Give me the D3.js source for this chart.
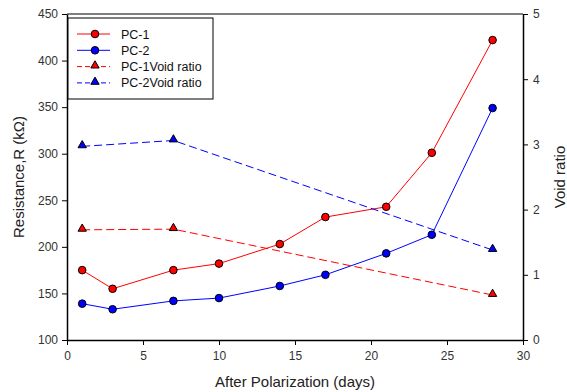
<!DOCTYPE html>
<html>
<head>
<meta charset="utf-8">
<script src="https://cdn.jsdelivr.net/npm/d3@7"></script>
<style>
  body { margin: 0; background: #fff; }
  text { font-family: "Liberation Sans", Arial, sans-serif; }
</style>
</head>
<body>
<svg id="chart" width="567" height="392"></svg>
<script>
// data
const days = [1, 3, 7, 10, 14, 17, 21, 24, 28];
const pc1 = [175, 155, 175, 182, 203, 232, 243, 301, 422];
const pc2 = [139, 133, 142, 145, 158, 170, 193, 213, 349];
const voidDays = [1, 7, 28];
const pc1Void = [1.69, 1.70, 0.69];
const pc2Void = [2.97, 3.06, 1.38];

const xTicks = [0, 5, 10, 15, 20, 25, 30];
const yTicks = [100, 150, 200, 250, 300, 350, 400, 450];
const y2Ticks = [0, 1, 2, 3, 4, 5];

const margin = { top: 14, right: 44, bottom: 52, left: 67 };
const width = 567 - margin.left - margin.right;
const height = 392 - margin.top - margin.bottom;

const svg = d3.select('#chart');
const g = svg.append('g')
  .attr('transform', `translate(${margin.left},${margin.top})`);

const x = d3.scaleLinear().domain([0, 30]).range([0, width]);
const y = d3.scaleLinear().domain([100, 450]).range([height, 0]);
const y2 = d3.scaleLinear().domain([0, 5]).range([height, 0]);

// frame top line
g.append('line')
  .attr('x1', 0).attr('x2', width)
  .attr('y1', 0).attr('y2', 0)
  .attr('stroke', '#000').attr('stroke-width', 1.2);

const styleAxis = sel => {
  sel.select('.domain').attr('stroke', '#000').attr('stroke-width', 1.5);
  sel.selectAll('.tick line').attr('stroke', '#000');
  sel.selectAll('.tick text')
    .attr('fill', '#333')
    .style('font-size', '12px');
};

g.append('g')
  .attr('transform', `translate(0,${height})`)
  .call(d3.axisBottom(x).tickValues(xTicks).tickSize(5).tickSizeOuter(0).tickPadding(6))
  .call(styleAxis);

g.append('g')
  .call(d3.axisLeft(y).tickValues(yTicks).tickSize(5).tickSizeOuter(0).tickPadding(4))
  .call(styleAxis);

g.append('g')
  .attr('transform', `translate(${width},0)`)
  .call(d3.axisRight(y2).tickValues(y2Ticks).tickFormat(d3.format('d'))
    .tickSize(5).tickSizeOuter(0).tickPadding(5))
  .call(styleAxis);

// axis titles
svg.append('text')
  .attr('x', margin.left + width / 2)
  .attr('y', 387)
  .attr('text-anchor', 'middle')
  .style('font-size', '15px')
  .attr('fill', '#222')
  .text('After Polarization (days)');

svg.append('text')
  .attr('transform', `translate(24,${margin.top + height / 2}) rotate(-90)`)
  .attr('text-anchor', 'middle')
  .style('font-size', '15px')
  .attr('fill', '#222')
  .text('Resistance,R (kΩ)');

svg.append('text')
  .attr('transform', `translate(565,${margin.top + height / 2}) rotate(-90)`)
  .attr('text-anchor', 'middle')
  .style('font-size', '15px')
  .attr('fill', '#222')
  .text('Void ratio');

const series = [
  { name: 'PC-1', xs: days, ys: pc1, scale: y, color: '#ff0000', dash: null, marker: 'circle' },
  { name: 'PC-2', xs: days, ys: pc2, scale: y, color: '#0000ff', dash: null, marker: 'circle' },
  { name: 'PC-1Void ratio', xs: voidDays, ys: pc1Void, scale: y2, color: '#ff0000', dash: '8,4', marker: 'triangle' },
  { name: 'PC-2Void ratio', xs: voidDays, ys: pc2Void, scale: y2, color: '#0000ff', dash: '8,4', marker: 'triangle' }
];

const tri = d3.symbol().type(d3.symbolTriangle).size(30);

function drawMarker(sel, s, cx, cy) {
  if (s.marker === 'circle') {
    sel.append('circle')
      .attr('cx', cx).attr('cy', cy).attr('r', 3.8)
      .attr('fill', s.color).attr('stroke', '#000').attr('stroke-width', 1);
  } else {
    sel.append('path')
      .attr('d', tri)
      .attr('transform', `translate(${cx},${cy - 1})`)
      .attr('fill', s.color).attr('stroke', '#000').attr('stroke-width', 1);
  }
}

series.forEach(s => {
  const pts = s.xs.map((d, i) => [d, s.ys[i]]);
  const line = d3.line().x(d => x(d[0])).y(d => s.scale(d[1]));
  g.append('path')
    .datum(pts)
    .attr('fill', 'none')
    .attr('stroke', s.color)
    .attr('stroke-width', 1)
    .attr('stroke-dasharray', s.dash)
    .attr('d', line);
  pts.forEach(p => drawMarker(g, s, x(p[0]), s.scale(p[1])));
});

// legend
const legend = svg.append('g').attr('transform', 'translate(68,18)');
legend.append('rect')
  .attr('width', 145).attr('height', 81)
  .attr('fill', '#fff').attr('stroke', '#000').attr('stroke-width', 1);

series.forEach((s, i) => {
  const ly = 16 + i * 16.3;
  legend.append('line')
    .attr('x1', 9).attr('x2', 42)
    .attr('y1', ly).attr('y2', ly)
    .attr('stroke', s.color).attr('stroke-width', 1)
    .attr('stroke-dasharray', s.dash ? '5,3' : null);
  drawMarker(legend, s, 27, ly);
  legend.append('text')
    .attr('x', 53).attr('y', ly + 4.5)
    .style('font-size', '12.5px')
    .attr('fill', '#111')
    .text(s.name);
});
</script>
</body>
</html>
